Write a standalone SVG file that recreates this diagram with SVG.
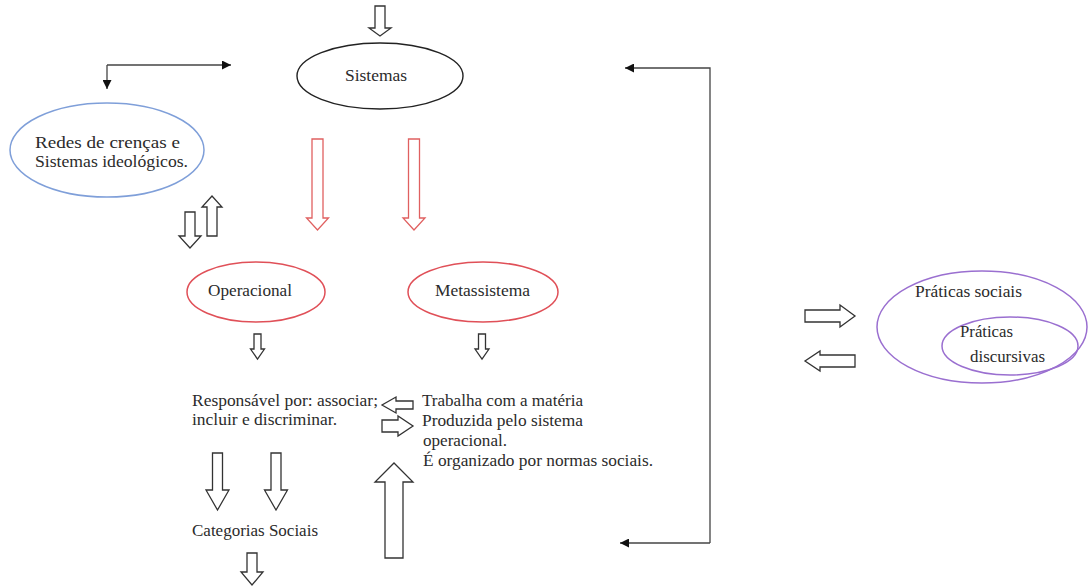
<svg xmlns="http://www.w3.org/2000/svg" width="1088" height="586" viewBox="0 0 1088 586">
<style>
.t{font-family:"Liberation Serif","Times New Roman",serif;font-size:16px;fill:#2b2b2b;}
.blk{fill:#fff;stroke:#333;stroke-width:1.3;stroke-linejoin:miter;}
.red{fill:#fff;stroke:#e06060;stroke-width:1.3;}
.conn{fill:none;stroke:#444;stroke-width:1.3;}
</style>
<defs>
<marker id="ah" viewBox="0 0 10 10" refX="10" refY="5" markerWidth="9" markerHeight="9" markerUnits="userSpaceOnUse" orient="auto">
<path d="M0,0 L10,5 L0,10 Z" fill="#111"/>
</marker>
</defs>
<rect width="1088" height="586" fill="#fff"/>

<g id="connectors">
<path class="conn" d="M107,65 H231" marker-end="url(#ah)"/>
<path class="conn" d="M107,65 V89" marker-end="url(#ah)"/>
<path class="conn" d="M710,543 V68 H625" marker-end="url(#ah)"/>
<path class="conn" d="M710,543 H620" marker-end="url(#ah)"/>
</g>

<g id="block-arrows">
<path class="blk" d="M375,6 H385 V28 H391 L380,36 L369,28 H375 Z"/>
<path class="red" d="M312,139 H323 V218 H328.5 L317.5,230 L306.5,218 H312 Z"/>
<path class="red" d="M408.5,139 H419.5 V218 H425 L414,230 L403,218 H408.5 Z"/>
<path class="blk" d="M185,212 H195 V236 H201 L190,248 L179,236 H185 Z"/>
<path class="blk" d="M207,236 H217 V207 H222 L212,196 L202,207 H207 Z"/>
<path class="blk" d="M254,334 H261 V349 H264.5 L257.5,359 L250.5,349 H254 Z"/>
<path class="blk" d="M478.5,334 H485.5 V349 H489 L482,359 L475,349 H478.5 Z"/>
<path class="blk" d="M413,401 H396 V397 L382,405 L396,413 V409 H413 Z"/>
<path class="blk" d="M382,420 H398 V416 L413,426 L398,436 V432 H382 Z"/>
<path class="blk" d="M212.5,453 H222.5 V490 H229 L217.5,510 L206,490 H212.5 Z"/>
<path class="blk" d="M271,453 H281 V490 H287.5 L276,510 L264.5,490 H271 Z"/>
<path class="blk" d="M247,553 H257 V572 H263 L252,585 L241,572 H247 Z"/>
<path class="blk" d="M385,558 H403 V482 H413 L394,463 L375,482 H385 Z"/>
<path class="blk" d="M805,310 H840 V305 L855,316 L840,327 V322 H805 Z"/>
<path class="blk" d="M855,355 H820 V351 L805,361 L820,371 V367 H855 Z"/>
</g>

<g id="node-sistemas">
<ellipse cx="380" cy="76" rx="83" ry="33" fill="#fff" stroke="#222" stroke-width="1.4"/>
<text class="t" x="345" y="81" textLength="62" lengthAdjust="spacingAndGlyphs">Sistemas</text>
</g>

<g id="node-redes">
<ellipse cx="107" cy="150" rx="97" ry="47" fill="#fff" stroke="#7f9fd9" stroke-width="1.5"/>
<text class="t" x="35" y="148" textLength="145" lengthAdjust="spacingAndGlyphs">Redes de crenças e</text>
<text class="t" x="35" y="167" textLength="153" lengthAdjust="spacingAndGlyphs">Sistemas ideológicos.</text>
</g>

<g id="node-operacional">
<ellipse cx="256" cy="292" rx="69" ry="30" fill="#fff" stroke="#e05058" stroke-width="1.5"/>
<text class="t" x="208" y="296" textLength="84" lengthAdjust="spacingAndGlyphs">Operacional</text>
</g>

<g id="node-metassistema">
<ellipse cx="483" cy="292" rx="75" ry="30" fill="#fff" stroke="#e05058" stroke-width="1.5"/>
<text class="t" x="435" y="296" textLength="95" lengthAdjust="spacingAndGlyphs">Metassistema</text>
</g>

<g id="node-responsavel">
<text class="t" x="192" y="406" textLength="186" lengthAdjust="spacingAndGlyphs">Responsável por: associar;</text>
<text class="t" x="192" y="425" textLength="145" lengthAdjust="spacingAndGlyphs">incluir e discriminar.</text>
</g>

<g id="node-trabalha">
<text class="t" x="422" y="406" textLength="161" lengthAdjust="spacingAndGlyphs">Trabalha com a matéria</text>
<text class="t" x="422" y="426" textLength="161" lengthAdjust="spacingAndGlyphs">Produzida pelo sistema</text>
<text class="t" x="423" y="446" textLength="84" lengthAdjust="spacingAndGlyphs">operacional.</text>
<text class="t" x="423" y="466" textLength="230" lengthAdjust="spacingAndGlyphs">É organizado por normas sociais.</text>
</g>

<g id="node-categorias">
<text class="t" x="192" y="536" textLength="126" lengthAdjust="spacingAndGlyphs">Categorias Sociais</text>
</g>

<g id="node-praticas-sociais">
<ellipse cx="982" cy="327" rx="105" ry="56" fill="#fff" stroke="#9a6fd0" stroke-width="1.5"/>
<text class="t" x="915" y="297" textLength="107" lengthAdjust="spacingAndGlyphs">Práticas sociais</text>
</g>

<g id="node-praticas-discursivas">
<ellipse cx="1010" cy="346" rx="68" ry="29" fill="none" stroke="#9a6fd0" stroke-width="1.5"/>
<text class="t" x="960" y="337" textLength="53" lengthAdjust="spacingAndGlyphs">Práticas</text>
<text class="t" x="970" y="362" textLength="75" lengthAdjust="spacingAndGlyphs">discursivas</text>
</g>
</svg>
